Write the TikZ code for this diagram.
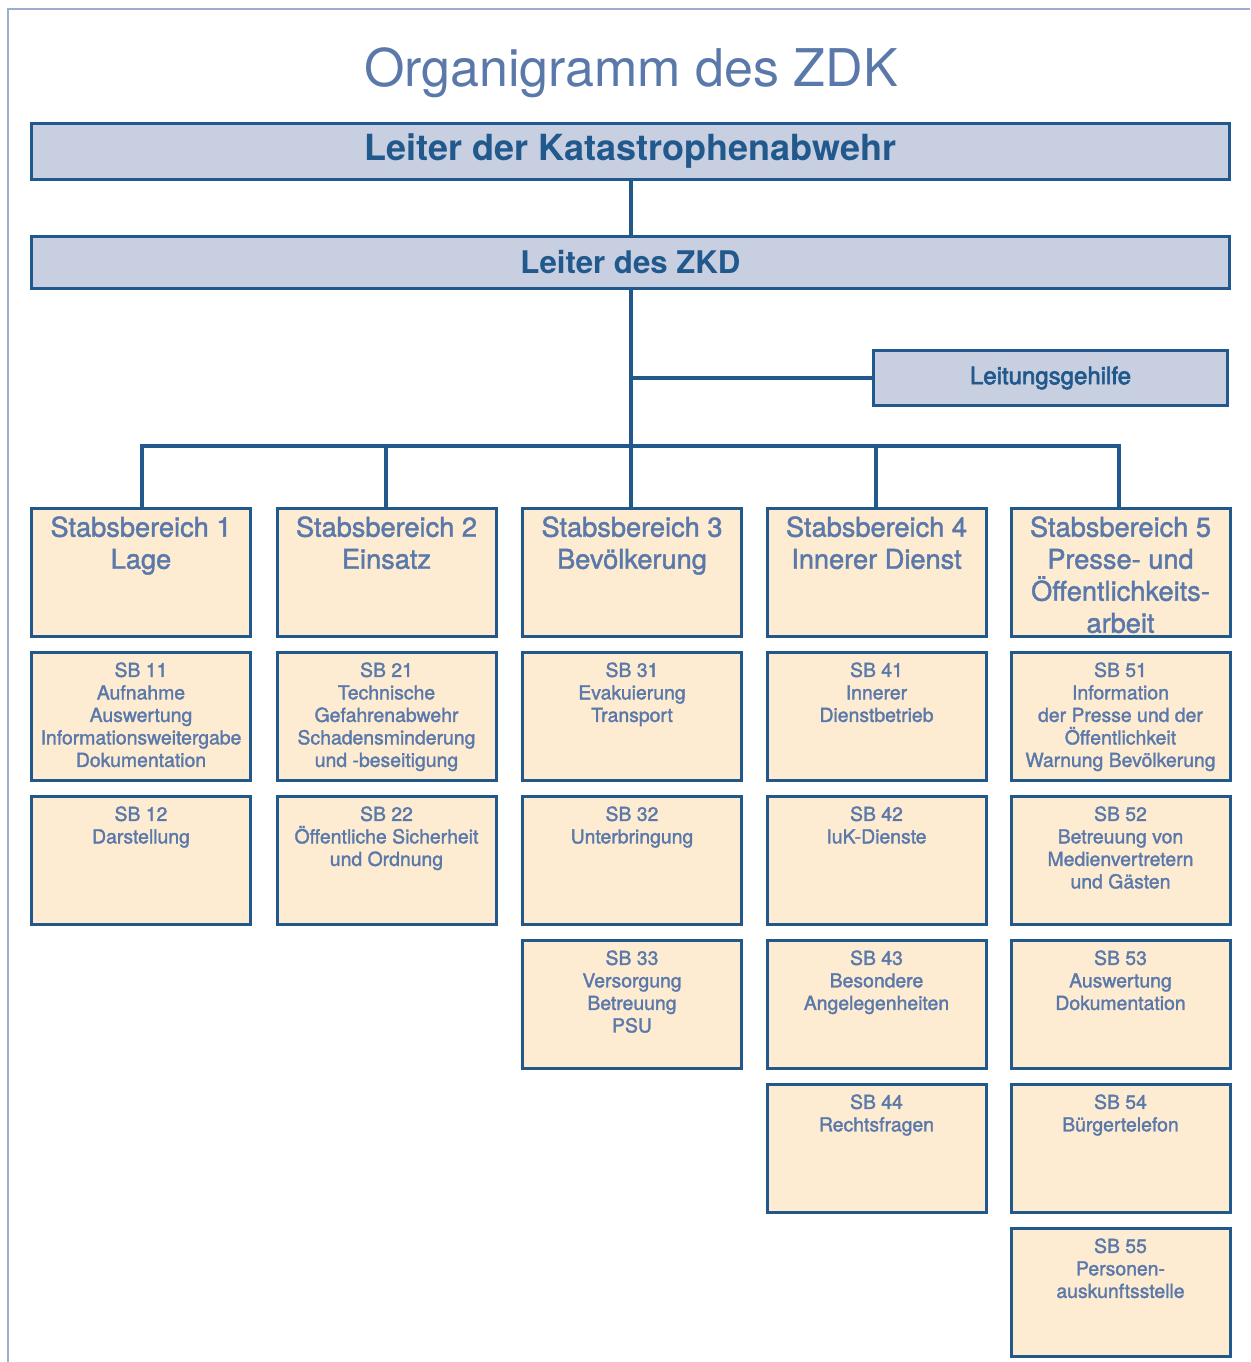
\documentclass[tikz,border=0pt]{standalone}
\usepackage{fontspec}
\setmainfont{TeX Gyre Heros}
\newfontfamily\medfont[FakeBold=1.6]{TeX Gyre Heros}
\newfontfamily\lgfont[FakeBold=2.6]{TeX Gyre Heros}
\definecolor{dblue}{HTML}{22598C}
\definecolor{lblue}{HTML}{5A79AA}
\definecolor{greyfill}{HTML}{C8CFE1}
\definecolor{peach}{HTML}{FDEBD2}
\definecolor{framec}{HTML}{9AAECF}
\begin{document}
\begin{tikzpicture}[x=0.5pt,y=-0.5pt,
  topbox/.style={draw=dblue, line width=1.5pt, fill=greyfill, text=dblue, inner sep=0pt, font=\bfseries},
  colbox/.style={draw=dblue, line width=1.5pt, fill=peach, minimum width=109.5pt, minimum height=64pt, inner sep=0pt},
  headlab/.style={anchor=north, inner sep=0pt, align=center, text=lblue, yshift=-4.5pt, font={\medfont\fontsize{13.6}{16}\selectfont}},
  sblab/.style={anchor=north, inner sep=0pt, align=center, text=lblue, yshift=-5.5pt, font={\medfont\fontsize{9.7}{11.25}\selectfont}},
  conn/.style={draw=dblue, line width=2pt}
]
\useasboundingbox (0,0) rectangle (1250,1362);
\draw[framec, line width=1pt] (8,1362) -- (8,9) -- (1250,9);

\node[anchor=base, text=lblue, font={\fontsize{26}{30}\selectfont}] (title) at (631,86) {Organigramm des ZDK};

\node[topbox, minimum width=599pt, minimum height=28pt, font={\bfseries\fontsize{18}{20}\selectfont}] (lk) at (630.5,151.5) {Leiter der Katastrophenabwehr};
\node[topbox, minimum width=599pt, minimum height=26pt, font={\bfseries\fontsize{15.6}{18}\selectfont}] (lz) at (630.5,262.5) {Leiter des ZKD};
\node[topbox, minimum width=177pt, minimum height=27.5pt, font={\lgfont\fontsize{12}{14}\selectfont}] (lg) at (1050.5,378) {Leitungsgehilfe};

% column headers
\node[colbox, label={[headlab]north:Stabsbereich 1\\Lage}] (s1) at (141,572.5) {};
\node[colbox, label={[headlab]north:Stabsbereich 2\\Einsatz}] (s2) at (386.5,572.5) {};
\node[colbox, label={[headlab]north:Stabsbereich 3\\Bevölkerung}] (s3) at (632,572.5) {};
\node[colbox, label={[headlab]north:Stabsbereich 4\\Innerer Dienst}] (s4) at (876.5,572.5) {};
\node[colbox, label={[headlab]north:Stabsbereich 5\\Presse- und\\Öffentlichkeits-\\arbeit}] (s5) at (1120.5,572.5) {};

% column 1
\node[colbox, label={[sblab]north:SB 11\\Aufnahme\\Auswertung\\Informationsweitergabe\\Dokumentation}] (sb11) at (141,716.5) {};
\node[colbox, label={[sblab]north:SB 12\\Darstellung}] (sb12) at (141,860.5) {};
% column 2
\node[colbox, label={[sblab]north:SB 21\\Technische\\Gefahrenabwehr\\Schadensminderung\\und -beseitigung}] (sb21) at (386.5,716.5) {};
\node[colbox, label={[sblab]north:SB 22\\Öffentliche Sicherheit\\und Ordnung}] (sb22) at (386.5,860.5) {};
% column 3
\node[colbox, label={[sblab]north:SB 31\\Evakuierung\\Transport}] (sb31) at (632,716.5) {};
\node[colbox, label={[sblab]north:SB 32\\Unterbringung}] (sb32) at (632,860.5) {};
\node[colbox, label={[sblab]north:SB 33\\Versorgung\\Betreuung\\PSU}] (sb33) at (632,1004.5) {};
% column 4
\node[colbox, label={[sblab]north:SB 41\\Innerer\\Dienstbetrieb}] (sb41) at (876.5,716.5) {};
\node[colbox, label={[sblab]north:SB 42\\IuK-Dienste}] (sb42) at (876.5,860.5) {};
\node[colbox, label={[sblab]north:SB 43\\Besondere\\Angelegenheiten}] (sb43) at (876.5,1004.5) {};
\node[colbox, label={[sblab]north:SB 44\\Rechtsfragen}] (sb44) at (876.5,1148.5) {};
% column 5
\node[colbox, label={[sblab]north:SB 51\\Information\\der Presse und der\\Öffentlichkeit\\Warnung Bevölkerung}] (sb51) at (1120.5,716.5) {};
\node[colbox, label={[sblab]north:SB 52\\Betreuung von\\Medienvertretern\\und Gästen}] (sb52) at (1120.5,860.5) {};
\node[colbox, label={[sblab]north:SB 53\\Auswertung\\Dokumentation}] (sb53) at (1120.5,1004.5) {};
\node[colbox, label={[sblab]north:SB 54\\Bürgertelefon}] (sb54) at (1120.5,1148.5) {};
\node[colbox, label={[sblab]north:SB 55\\Personen-\\auskunftsstelle}] (sb55) at (1120.5,1292.5) {};

% connectors
\coordinate (bus) at (630,446);
\draw[conn] (lk.south) -- (lz.north);
\draw[conn] (lz.south) -- (lz.south |- s3.north);
\draw[conn] (lg.west) -- (lg.west -| lz.south);
\draw[conn] (s1.north -| 142,0) |- (bus) -| (s5.north -| 1119,0);
\draw[conn] (s2.north -| 386,0) -- (386,446);
\draw[conn] (s4.north -| 876,0) -- (876,446);
\end{tikzpicture}
\end{document}
